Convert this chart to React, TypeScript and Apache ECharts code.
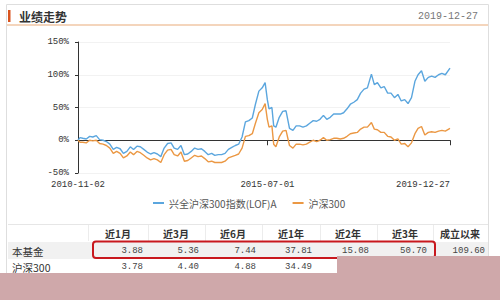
import React, { useEffect, useRef } from "react";
import * as echarts from "echarts";

const chartTitle = "业绩走势";
const reportDate = "2019-12-27";
const fundName = "兴全沪深300指数(LOF)A";
const indexName = "沪深300";

const dates = [
  "2010-11-02", "2010-11-20", "2010-12-15", "2011-01-15", "2011-02-15", "2011-03-15", "2011-04-15", "2011-05-15",
  "2011-06-15", "2011-07-15", "2011-08-15", "2011-09-15", "2011-10-15", "2011-11-15", "2011-12-15", "2012-01-15",
  "2012-02-15", "2012-03-15", "2012-04-15", "2012-05-15", "2012-06-15", "2012-07-15", "2012-08-15", "2012-09-15",
  "2012-10-15", "2012-11-15", "2012-12-15", "2013-01-15", "2013-02-15", "2013-03-15", "2013-04-15", "2013-05-15",
  "2013-06-15", "2013-07-15", "2013-08-15", "2013-09-15", "2013-10-15", "2013-11-15", "2013-12-15", "2014-01-15",
  "2014-02-15", "2014-03-15", "2014-04-15", "2014-05-15", "2014-06-15", "2014-07-15", "2014-08-15", "2014-09-15",
  "2014-10-15", "2014-11-15", "2014-12-15", "2015-01-15", "2015-02-15", "2015-03-15", "2015-04-15", "2015-05-15",
  "2015-06-10", "2015-06-30", "2015-07-15", "2015-08-10", "2015-08-26", "2015-09-15", "2015-10-15", "2015-11-15",
  "2015-12-15", "2016-01-15", "2016-02-15", "2016-03-15", "2016-04-15", "2016-05-15", "2016-06-15", "2016-07-15",
  "2016-08-15", "2016-09-15", "2016-10-15", "2016-11-15", "2016-12-15", "2017-01-15", "2017-02-15", "2017-03-15",
  "2017-04-15", "2017-05-15", "2017-06-15", "2017-07-15", "2017-08-15", "2017-09-15", "2017-10-15", "2017-11-15",
  "2017-12-15", "2018-01-20", "2018-02-15", "2018-03-15", "2018-04-15", "2018-05-15", "2018-06-15", "2018-07-15",
  "2018-08-15", "2018-09-15", "2018-10-15", "2018-11-15", "2018-12-15", "2019-01-15", "2019-02-15", "2019-03-15",
  "2019-04-15", "2019-05-15", "2019-06-15", "2019-07-15", "2019-08-15", "2019-09-15", "2019-10-15", "2019-11-15",
  "2019-12-27",
];

const fundValues = [
  0, 4, 3, 2, 6, 5, 7, 1,
  0, -2, -6, -14, -11, -13, -20, -17,
  -10, -14, -9, -10, -14, -18, -21, -19,
  -21, -25, -12, -5, -4, -12, -14, -8,
  -22, -21, -17, -12, -14, -13, -17, -22,
  -20, -23, -22, -22, -20, -14, -11, -8,
  -6, 5, 28, 30, 34, 55, 75, 80,
  88, 62, 48, 50, 22, 20, 35, 44,
  45, 18, 15, 22, 22, 20, 22, 26,
  30, 29, 32, 38, 32, 35, 40, 40,
  40, 42, 48, 55, 58, 62, 72, 78,
  80, 101, 85, 88, 80, 82, 72, 72,
  65, 70, 60, 62, 56, 65, 90, 100,
  106, 90, 96, 98, 96, 100, 102, 100,
  110,
];

const indexValues = [
  0, -3, -3, -4, 0, -1, 0, -5,
  -6, -8, -12, -20, -17, -20, -27, -24,
  -18, -22, -17, -19, -23, -27, -30, -28,
  -30, -34, -22, -15, -14, -22, -24, -18,
  -32, -31, -27, -23, -25, -24, -28, -33,
  -32, -34, -34, -34, -32, -27, -25, -23,
  -21, -12, 6, 7, 10, 26, 42, 47,
  56, 32, 20, 22, -6, -10, 5, 14,
  15, -8, -12, -6, -6, -7, -6, -3,
  0, -2, 0, 4, 0, 1, 3, 3,
  2, 3, 6, 10, 11, 12, 17, 20,
  20, 27, 17, 16, 12, 12, 6, 5,
  0, 2, -6, -5, -10, -4, 10, 18,
  21, 8, 12, 13, 12, 14, 15, 14,
  18,
];

const xTickDates = ["2010-11-02", "2015-07-01", "2019-12-27"];
const yMin = -50;
const yMax = 150;
const yInterval = 50;

const tableHeaders = ["近1月", "近3月", "近6月", "近1年", "近2年", "近3年", "成立以来"];
const rowLabels = ["本基金", "沪深300"];
const fundReturns = ["3.88", "5.36", "7.44", "37.81", "15.08", "50.70", "109.60"];
const indexReturns = ["3.78", "4.40", "4.88", "34.49"];

const CJK = '"Noto Sans CJK SC", sans-serif';
const MONO = '"Liberation Mono", monospace';
const BLUE = "#5ba6de";
const ORANGE = "#eb9844";

const toTs = (d: string) => Date.UTC(+d.slice(0, 4), +d.slice(5, 7) - 1, +d.slice(8, 10));

export default function App() {
  const ref = useRef<HTMLDivElement>(null);

  useEffect(() => {
    if (!ref.current) return;
    const chart = echarts.init(ref.current, null, { renderer: "svg" });

    const tickTs = xTickDates.map(toTs);
    const tsToLabel = (v: number) => {
      const idx = tickTs.findIndex((t) => Math.abs(t - v) < 86400000);
      return idx >= 0 ? xTickDates[idx] : "";
    };

    const colCenters = [118, 176, 233, 291, 348, 405, 460];
    const valueRights = [143, 199, 256, 312, 369, 427, 485];
    const separators = [88, 148, 205, 262, 320, 377, 433];

    const graphic: any[] = [
      { type: "rect", shape: { x: 6.5, y: 4.5, width: 482, height: 310 }, style: { fill: "#fff", stroke: "#dedede", lineWidth: 1 }, z: -10, silent: true },
      { type: "line", shape: { x1: 7, y1: 25, x2: 488, y2: 25 }, style: { stroke: "#f0c7a6", lineWidth: 1.5 } },
      { type: "rect", shape: { x: 8, y: 10, width: 2.5, height: 12 }, style: { fill: "#d9531e" } },
      { type: "text", x: 19, y: 16, style: { text: chartTitle, font: `bold 12px ${CJK}`, fill: "#333", verticalAlign: "middle" } },
      { type: "text", x: 478, y: 16, style: { text: reportDate, font: `10px ${MONO}`, fill: "#777", align: "right", verticalAlign: "middle" } },
      { type: "line", shape: { x1: 8, y1: 224.5, x2: 488, y2: 224.5 }, style: { stroke: "#e6e6e6", lineWidth: 1 } },
      { type: "rect", shape: { x: 8, y: 242, width: 480, height: 17 }, style: { fill: "#f1f1f1" }, z: -1 },
    ];

    separators.forEach((sx) => {
      graphic.push({ type: "line", shape: { x1: sx + 0.5, y1: 225, x2: sx + 0.5, y2: 241 }, style: { stroke: "#ececec", lineWidth: 1 } });
    });
    tableHeaders.forEach((h, i) => {
      graphic.push({ type: "text", x: colCenters[i], y: 233, style: { text: h, font: `bold 10px ${CJK}`, fill: "#333", align: "center", verticalAlign: "middle" } });
    });
    rowLabels.forEach((lab, r) => {
      graphic.push({ type: "text", x: 12, y: 251 + r * 16, style: { text: lab, font: `10.5px ${CJK}`, fill: "#333", verticalAlign: "middle" } });
    });
    fundReturns.forEach((v, i) => {
      graphic.push({ type: "text", x: valueRights[i], y: 251, style: { text: v, font: `9px ${MONO}`, fill: "#444", align: "right", verticalAlign: "middle" } });
    });
    indexReturns.forEach((v, i) => {
      graphic.push({ type: "text", x: valueRights[i], y: 267, style: { text: v, font: `9px ${MONO}`, fill: "#444", align: "right", verticalAlign: "middle" } });
    });
    graphic.push({
      type: "rect",
      shape: { x: 93, y: 241.5, width: 342, height: 16.5, r: 3 },
      style: { fill: "none", stroke: "#c8181e", lineWidth: 2 },
      z: 5,
    });
    graphic.push({ type: "rect", shape: { x: 0, y: 273, width: 500, height: 27 }, style: { fill: "#cfa8aa" }, z: 10 });
    graphic.push({ type: "rect", shape: { x: 337, y: 256, width: 163, height: 18 }, style: { fill: "#cfa8aa" }, z: 10 });

    chart.setOption({
      animation: false,
      backgroundColor: "#fff",
      color: [BLUE, ORANGE],
      grid: { left: 78, right: 50, top: 42, bottom: 127, containLabel: false },
      legend: {
        left: 148,
        top: 193,
        itemWidth: 11,
        itemHeight: 2,
        itemGap: 16,
        icon: "rect",
        textStyle: { fontSize: 10, color: "#555", fontFamily: CJK },
        data: [fundName, indexName],
      },
      xAxis: {
        type: "value",
        min: tickTs[0],
        max: tickTs[tickTs.length - 1],
        axisLine: { lineStyle: { color: "#333", width: 1 } },
        axisTick: { show: true, length: 5, customValues: tickTs, lineStyle: { color: "#333" } },
        axisLabel: {
          customValues: tickTs,
          formatter: (v: number) => tsToLabel(v),
          fontSize: 9,
          fontFamily: MONO,
          color: "#333",
          margin: 7,
          alignMaxLabel: "right",
          hideOverlap: false,
        },
        splitLine: { show: false },
      },
      yAxis: {
        type: "value",
        min: yMin,
        max: yMax,
        interval: yInterval,
        axisLine: { show: true, lineStyle: { color: "#333", width: 1 } },
        axisTick: { show: true, length: 3, lineStyle: { color: "#333" } },
        axisLabel: { formatter: "{value}%", fontSize: 9, fontFamily: MONO, color: "#333", margin: 9 },
        splitLine: { show: true, lineStyle: { color: "#f2f2f2" } },
      },
      series: [
        {
          name: fundName,
          type: "line",
          showSymbol: false,
          symbol: "none",
          lineStyle: { width: 1.4, color: BLUE },
          data: dates.map((d, i) => [toTs(d), fundValues[i]]),
        },
        {
          name: indexName,
          type: "line",
          showSymbol: false,
          symbol: "none",
          lineStyle: { width: 1.4, color: ORANGE },
          data: dates.map((d, i) => [toTs(d), indexValues[i]]),
        },
      ],
      graphic,
    });

    return () => chart.dispose();
  }, []);

  return (
    <div
      ref={ref}
      style={{ position: "absolute", left: 0, top: 0, width: 500, height: 300 }}
    />
  );
}
